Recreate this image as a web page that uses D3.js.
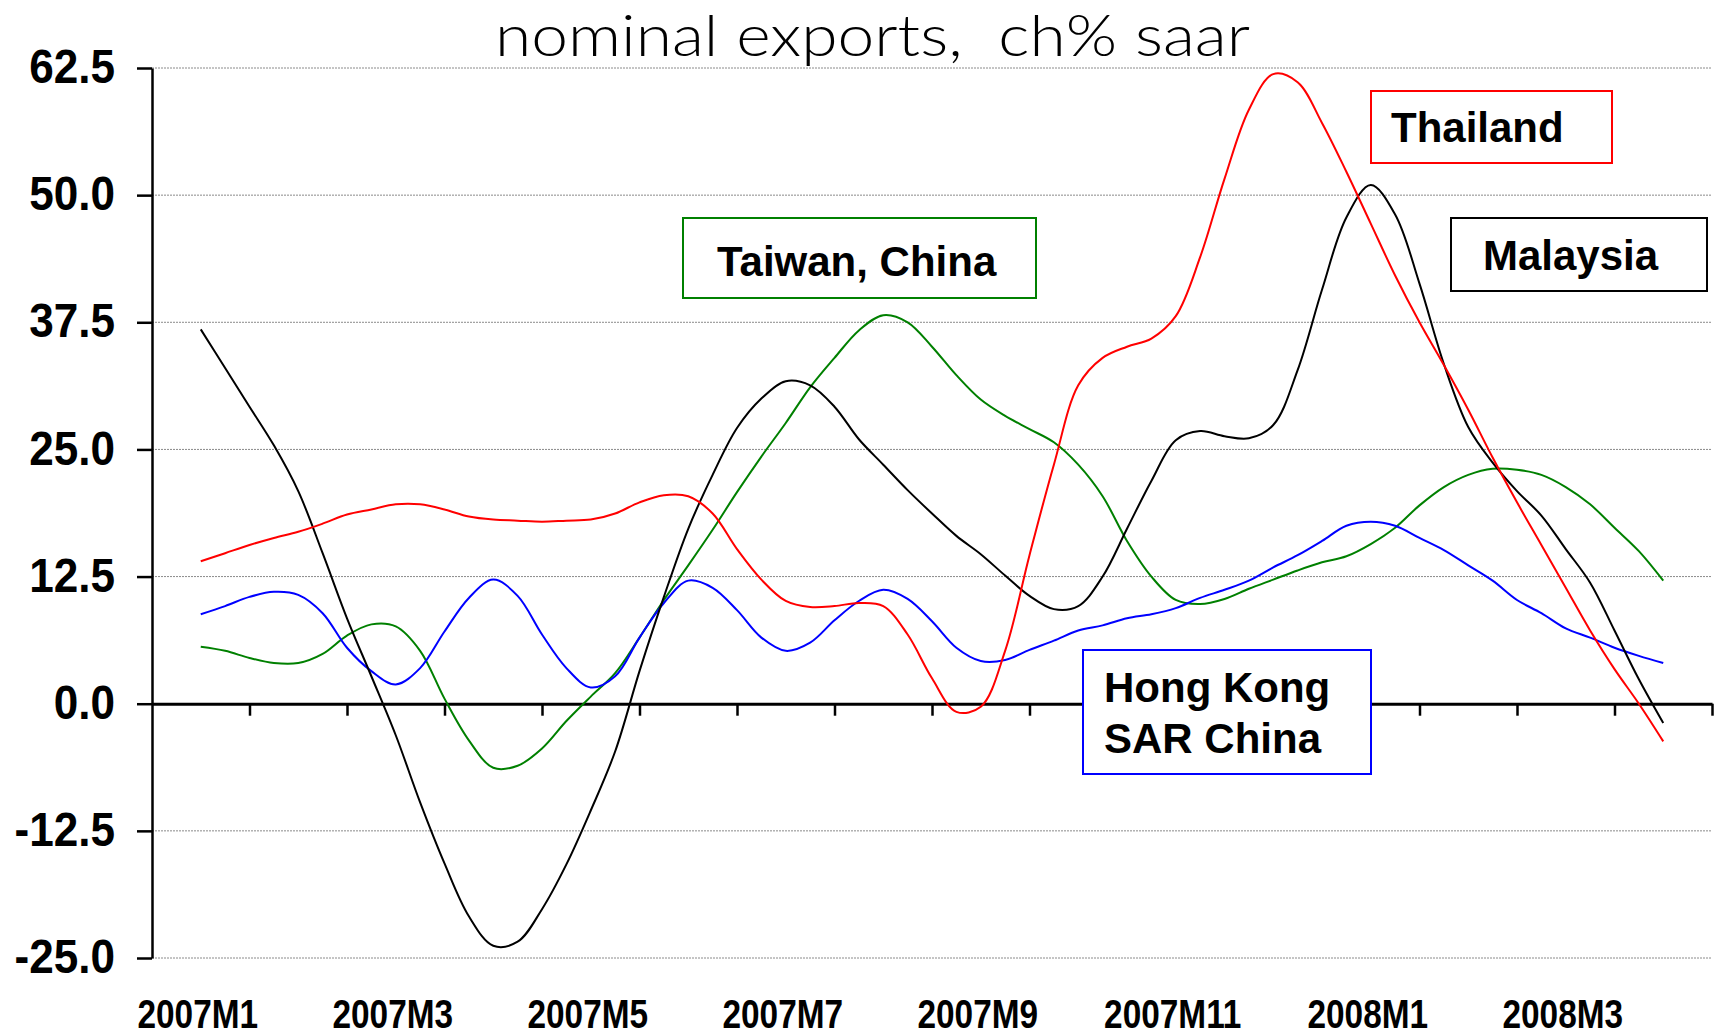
<!DOCTYPE html>
<html>
<head>
<meta charset="utf-8">
<script src="https://cdn.jsdelivr.net/npm/d3@7"></script>
<style>
body { margin: 0; background: #fff; }
svg { display: block; }
</style>
</head>
<body>
<div id="chart"></div>
<script>
// months on the x axis, readings are weekly (4 per month) starting mid 2007M1
var months = ["2007M1", "2007M2", "2007M3", "2007M4", "2007M5", "2007M6", "2007M7", "2007M8",
    "2007M9", "2007M10", "2007M11", "2007M12", "2008M1", "2008M2", "2008M3", "2008M4"];
var perMonth = 4;
var yTicks = [-25, -12.5, 0, 12.5, 25, 37.5, 50, 62.5];
var title = "nominal exports,  ch% saar";

var taiwan = [5.6, 5.2, 4.5, 4.0, 4.0, 4.9, 6.7, 7.8, 7.6, 5.2, 0.5, -3.6, -6.3, -6.1, -4.4, -1.7,
    0.7, 3.0, 6.5, 10.2, 13.6, 17.1, 20.8, 24.3, 27.6, 31.1, 34.0, 36.7, 38.2, 37.5, 35.1, 32.3,
    29.9, 28.3, 27.0, 25.7, 23.5, 20.4, 16.0, 12.5, 10.2, 9.8, 10.3, 11.3, 12.2, 13.1, 13.9,
    14.5, 15.7, 17.3, 19.5, 21.3, 22.5, 23.1, 23.0, 22.5, 21.3, 19.6, 17.3, 15.0, 12.1];

var hongKong = [8.8, 9.6, 10.5, 11.0, 10.7, 8.9, 5.5, 3.2, 1.9, 3.5, 7.1, 10.4, 12.2, 10.6, 6.8, 3.5,
    1.6, 2.7, 6.5, 9.9, 12.1, 11.4, 9.2, 6.5, 5.2, 6.0, 8.2, 10.1, 11.2, 10.3, 8.1, 5.5,
    4.2, 4.3, 5.3, 6.2, 7.2, 7.7, 8.4, 8.8, 9.4, 10.4, 11.2, 12.1, 13.4, 14.6, 16.0,
    17.5, 17.9, 17.5, 16.3, 15.1, 13.6, 12.1, 10.2, 8.9, 7.4, 6.5, 5.5, 4.7, 4.0];

var malaysia = [36.8, 33.0, 29.2, 25.4, 20.9, 14.8, 8.4, 2.7, -3.1, -9.7, -15.7, -20.9, -23.8, -23.4, -20.2, -15.8,
    -10.5, -4.7, 3.2, 10.5, 17.2, 22.5, 27.1, 30.0, 31.7, 31.3, 29.2, 26.0, 23.5, 21.0, 18.7, 16.5,
    14.7, 12.6, 10.6, 9.3, 9.6, 12.5, 17.2, 21.9, 25.9, 26.8, 26.3, 26.1, 27.4, 32.8, 40.7,
    47.8, 51.0, 48.1, 41.3, 33.4, 27.2, 23.7, 20.9, 18.5, 15.2, 11.9, 7.2, 2.4, -1.9];

var thailand = [14.0, 14.8, 15.6, 16.3, 16.9, 17.7, 18.6, 19.1, 19.6, 19.6, 19.1, 18.4, 18.1, 18.0, 17.9, 18.0,
    18.1, 18.7, 19.8, 20.5, 20.4, 18.7, 15.2, 12.2, 10.1, 9.5, 9.6, 9.9, 9.6, 6.8, 2.5, -0.8,
    -0.3, 5.2, 14.6, 23.5, 31.3, 34.0, 35.1, 35.9, 38.1, 43.9, 51.6, 58.4, 61.9, 61.1, 57.1,
    52.3, 47.2, 42.1, 37.5, 33.3, 28.9, 24.2, 19.8, 15.6, 11.4, 7.2, 3.4, 0.0, -3.7];

var labelLines = [["Taiwan, China"], ["Hong Kong", "SAR China"], ["Malaysia"], ["Thailand"]];
var colors = ["#008000", "#0000ff", "#000000", "#ff0000"];

var series = [taiwan, hongKong, malaysia, thailand].map(function (v, i) {
    return { values: v, color: colors[i], lines: labelLines[i] };
});

// label boxes, just placed by hand
var boxes = [
    { x: 683, y: 218, w: 353, h: 80, tx: 717, ty: 276 },
    { x: 1083, y: 650, w: 288, h: 124, tx: 1104, ty: 702 },
    { x: 1451, y: 218, w: 256, h: 73, tx: 1483, ty: 270 },
    { x: 1371, y: 91, w: 241, h: 72, tx: 1391, ty: 142 }
];

var W = 1720, H = 1036;
var plotL = 152, plotR = 1712, plotT = 68, plotB = 958;
var boldFont = "'Liberation Sans', Arial, Helvetica, sans-serif";

var svg = d3.select("#chart").append("svg")
    .attr("width", W)
    .attr("height", H);

var x = d3.scaleLinear().domain([0, months.length]).range([plotL, plotR]);
var xb = d3.scaleBand().domain(months).range([plotL, plotR]);
var y = d3.scaleLinear().domain([-25, 62.5]).range([plotB, plotT]);

// title (thin face)
svg.append("text")
    .attr("x", 495)
    .attr("y", 56)
    .attr("textLength", 755)
    .attr("lengthAdjust", "spacingAndGlyphs")
    .style("white-space", "pre")
    .style("font-family", "Lato, 'Liberation Sans', Helvetica, Arial, sans-serif")
    .style("font-weight", 300)
    .style("font-size", "57px")
    .attr("fill", "#000")
    .text(title);

// gridlines
svg.append("g")
    .selectAll("line")
    .data(yTicks.filter(function (d) { return d !== 0; }))
    .join("line")
    .attr("x1", x(0))
    .attr("x2", x(months.length))
    .attr("y1", function (d) { return y(d); })
    .attr("y2", function (d) { return y(d); })
    .attr("stroke", "#8a8a8a")
    .attr("stroke-width", 1)
    .attr("stroke-dasharray", "2,1");

// y axis, plain hyphen for negatives like the original
var yAxis = svg.append("g")
    .attr("transform", "translate(" + plotL + ",0)")
    .call(d3.axisLeft(y).tickValues(yTicks)
        .tickFormat(function (d) { return d.toFixed(1); })
        .tickSizeInner(15).tickSizeOuter(0));
yAxis.select(".domain").attr("stroke-width", 2.5);
yAxis.selectAll(".tick line").attr("stroke-width", 2.5);
yAxis.selectAll("text")
    .attr("x", 0)
    .attr("dy", "0.3em")
    .attr("transform", "translate(-37,0) scale(0.9,1)")
    .attr("fill", "#000")
    .style("font-family", boldFont)
    .style("font-weight", "bold")
    .style("font-size", "49px");

// zero line with month ticks
var zeroAxis = svg.append("g")
    .attr("transform", "translate(0," + y(0) + ")")
    .call(d3.axisBottom(x).tickValues(d3.range(1, months.length + 1)).tickFormat("").tickSizeInner(12).tickSizeOuter(0));
zeroAxis.select(".domain").attr("stroke-width", 3);
zeroAxis.selectAll(".tick line").attr("stroke-width", 2.5);

// month labels at the bottom
var monthAxis = svg.append("g")
    .attr("transform", "translate(0,1028)")
    .call(d3.axisBottom(xb).tickValues(months.filter(function (d, i) { return i % 2 === 0; })).tickSize(0));
monthAxis.select(".domain").remove();
monthAxis.selectAll("text")
    .attr("y", 0)
    .attr("dy", 0)
    .attr("transform", "translate(-3,0) scale(0.835,1)")
    .attr("fill", "#000")
    .style("font-family", boldFont)
    .style("font-weight", "bold")
    .style("font-size", "40px");

// the lines
var line = d3.line()
    .x(function (d, i) { return x(0.5 + i / perMonth); })
    .y(function (d) { return y(d); })
    .curve(d3.curveCatmullRom.alpha(0.5));

svg.append("g")
    .selectAll("path")
    .data(series)
    .join("path")
    .attr("d", function (d) { return line(d.values); })
    .attr("fill", "none")
    .attr("stroke", function (d) { return d.color; })
    .attr("stroke-width", 2);

// label boxes
var lab = svg.append("g")
    .selectAll("g")
    .data(series)
    .join("g");

lab.append("rect")
    .attr("x", function (d, i) { return boxes[i].x; })
    .attr("y", function (d, i) { return boxes[i].y; })
    .attr("width", function (d, i) { return boxes[i].w; })
    .attr("height", function (d, i) { return boxes[i].h; })
    .attr("fill", "#fff")
    .attr("stroke", function (d) { return d.color; })
    .attr("stroke-width", 2);

lab.each(function (d, i) {
    var t = d3.select(this).append("text")
        .attr("fill", "#000")
        .style("font-family", boldFont)
        .style("font-weight", "bold")
        .style("font-size", "42px");
    d.lines.forEach(function (s, j) {
        t.append("tspan")
            .attr("x", boxes[i].tx)
            .attr("y", boxes[i].ty + j * 51)
            .text(s);
    });
});
</script>
</body>
</html>
